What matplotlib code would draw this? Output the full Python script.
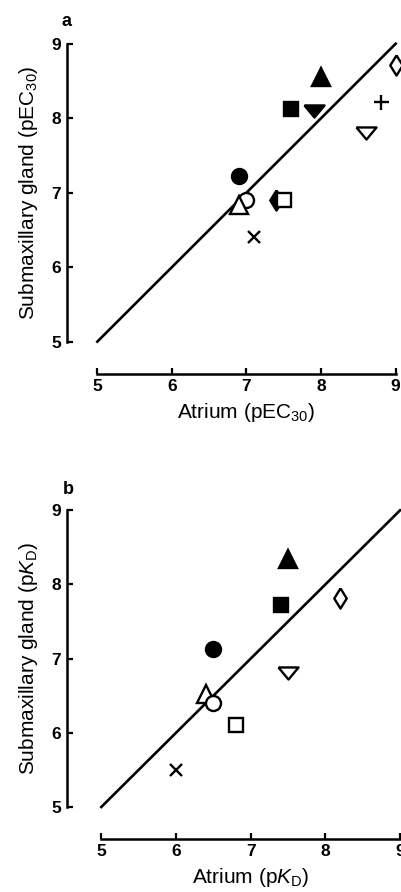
import numpy as np
import matplotlib.pyplot as plt

plt.rcParams['font.family'] = ['Liberation Sans', 'DejaVu Sans']
plt.rcParams['mathtext.fontset'] = 'custom'
plt.rcParams['mathtext.rm'] = 'Liberation Sans'
plt.rcParams['mathtext.it'] = 'Liberation Sans:italic'

# Panel a: pEC30 values, atrium vs submaxillary gland
a_atrium = [6.9, 7.0, 6.9, 7.4, 7.5, 7.1, 7.6, 7.9, 8.0, 8.8, 8.6, 9.0]
a_gland = [7.23, 6.9, 6.83, 6.9, 6.9, 6.4, 8.13, 8.1, 8.55, 8.22, 7.8, 8.72]
a_marks = ['o', 'o', '^', 'd', 's', 'x', 's', 'v', '^', '+', 'v', 'd']
a_fill = [True, False, False, True, False, True, True, True, True, True, False, False]

# Panel b: pKD values
b_atrium = [6.5, 6.4, 6.5, 6.8, 6.0, 7.5, 7.4, 8.2, 7.5]
b_gland = [7.13, 6.52, 6.4, 6.1, 5.5, 8.35, 7.73, 7.82, 6.8]
b_marks = ['o', '^', 'o', 's', 'x', '^', 's', 'd', 'v']
b_fill = [True, False, False, False, True, True, True, False, False]

ticks = [5, 6, 7, 8, 9]

# flat downward triangle and narrow diamond, as drawn in the original
flat_v = [(-1, 0.6), (1, 0.6), (0, -0.6), (-1, 0.6)]
thin_d = [(0, 1), (0.62, 0), (0, -1), (-0.62, 0), (0, 1)]
shapes = {'o': 'o', 's': 's', '^': '^', 'v': flat_v, 'd': thin_d, 'x': 'x', '+': '+'}
sizes = {'o': 10.8, 's': 10.5, '^': 13, 'v': 14.5, 'd': 14.5, 'x': 8.5, '+': 10.8}

fig = plt.figure(figsize=(4.01, 8.92), dpi=100)


def panel(rect, xs, ys, marks, fills, xlab, ylab, yoff):
    ax = fig.add_axes(rect)
    ax.plot([5, 9], [5, 9], color='black', lw=1.9, zorder=2, clip_on=False)
    for x, y, m, f in zip(xs, ys, marks, fills):
        ax.plot(x, y, marker=shapes[m], ms=sizes[m], color='black',
                mfc='black' if f else 'white', mec='black', mew=1.7,
                ls='none', zorder=3, clip_on=False)
    ax.set_xlim(5, 9)
    ax.set_ylim(5, 9)
    for s in ['top', 'right']:
        ax.spines[s].set_visible(False)
    ax.spines['left'].set_position(('outward', yoff))
    ax.spines['bottom'].set_position(('outward', 23))
    for s in ['left', 'bottom']:
        ax.spines[s].set_linewidth(1.8)
    ax.set_xticks(ticks)
    ax.set_yticks(ticks)
    ax.tick_params(direction='in', length=4, width=1.6, labelsize=12.5, pad=4)
    for lab in ax.get_xticklabels() + ax.get_yticklabels():
        lab.set_fontweight('bold')
    ax.set_xlabel(xlab, fontsize=15, labelpad=5)
    ax.set_ylabel(ylab, fontsize=15, labelpad=8)
    return ax


panel([0.2427, 0.617, 0.744, 0.334], a_atrium, a_gland, a_marks, a_fill,
      'Atrium (pEC$_{30}$)', 'Submaxillary gland (pEC$_{30}$)', 22)
panel([0.2526, 0.0953, 0.745, 0.3326], b_atrium, b_gland, b_marks, b_fill,
      'Atrium (p$K_{\\mathrm{D}}$)', 'Submaxillary gland (p$K_{\\mathrm{D}}$)', 25)

fig.text(0.154, 0.971, 'a', fontsize=13, fontweight='bold', va='baseline')
fig.text(0.157, 0.446, 'b', fontsize=13, fontweight='bold', va='baseline')

fig.savefig('out.png', dpi=100)
